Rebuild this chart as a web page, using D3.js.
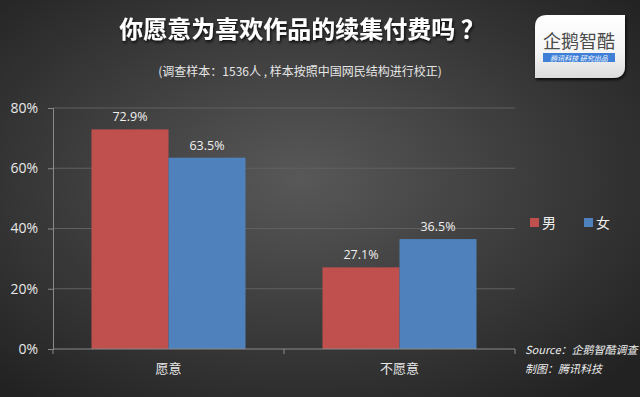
<!DOCTYPE html>
<html>
<head>
<meta charset="utf-8">
<script src="https://cdn.jsdelivr.net/npm/d3@7"></script>
<style>
  html, body { margin: 0; padding: 0; background: #2a2a2a; }
  svg { display: block; font-family: "Noto Sans CJK SC", "Noto Sans", sans-serif; }
</style>
</head>
<body>
<svg id="chart"></svg>
<script>
// chart data
const categories = ['愿意', '不愿意'];
const seriesNames = ['男', '女'];
const maleValues = [72.9, 27.1];
const femaleValues = [63.5, 36.5];
const yTicks = [0, 20, 40, 60, 80];

const seriesColors = ['#C0504D', '#4F81BD'];

const width = 640;
const height = 397;

const svg = d3.select('#chart')
    .attr('width', width)
    .attr('height', height);

// background gradient
const defs = svg.append('defs');
const bg = defs.append('radialGradient')
    .attr('id', 'bg')
    .attr('cx', '47%').attr('cy', '45%').attr('r', '70%');
bg.append('stop').attr('offset', '0%').attr('stop-color', '#585858');
bg.append('stop').attr('offset', '100%').attr('stop-color', '#222222');

const logoGrad = defs.append('linearGradient')
    .attr('id', 'logoGrad')
    .attr('x1', 0).attr('y1', 0).attr('x2', 0).attr('y2', 1);
logoGrad.append('stop').attr('offset', '0%').attr('stop-color', '#ffffff');
logoGrad.append('stop').attr('offset', '60%').attr('stop-color', '#f4f4f4');
logoGrad.append('stop').attr('offset', '100%').attr('stop-color', '#dcdcdc');

const shadow = defs.append('filter').attr('id', 'shadow')
    .attr('x', '-10%').attr('y', '-30%').attr('width', '120%').attr('height', '160%');
shadow.append('feDropShadow')
    .attr('dx', 1).attr('dy', 2).attr('stdDeviation', 1.5)
    .attr('flood-color', '#000').attr('flood-opacity', 0.8);

svg.append('rect')
    .attr('width', width).attr('height', height)
    .attr('fill', 'url(#bg)');

// title
svg.append('text')
    .attr('x', 302).attr('y', 38)
    .attr('text-anchor', 'middle')
    .attr('fill', '#ffffff')
    .attr('font-size', 24)
    .attr('font-weight', 'bold')
    .attr('filter', 'url(#shadow)')
    .text('你愿意为喜欢作品的续集付费吗 ？');

svg.append('text')
    .attr('x', 300).attr('y', 76)
    .attr('text-anchor', 'middle')
    .attr('fill', '#e6e6e6')
    .attr('font-size', 12)
    .text('(调查样本：1536人 , 样本按照中国网民结构进行校正)');

// logo box
const logo = svg.append('g');
logo.append('path')
    .attr('d', 'M547,15 H625 V66 Q625,78 613,78 H535 V27 Q535,15 547,15 Z')
    .attr('fill', 'url(#logoGrad)')
    .attr('filter', 'url(#shadow)');
logo.append('text')
    .attr('x', 579).attr('y', 48)
    .attr('text-anchor', 'middle')
    .attr('fill', '#4a4a4a')
    .attr('font-size', 18)
    .text('企鹅智酷');
logo.append('rect')
    .attr('x', 543).attr('y', 53).attr('width', 72).attr('height', 9)
    .attr('fill', '#3f7fd8');
logo.append('text')
    .attr('x', 579).attr('y', 60.5)
    .attr('text-anchor', 'middle')
    .attr('fill', '#ffffff')
    .attr('font-size', 7)
    .attr('font-style', 'italic')
    .text('腾讯科技  研究出品');

// scales
const x0 = d3.scaleBand()
    .domain(categories)
    .range([53, 515])
    .padding(0);

const x1 = d3.scaleBand()
    .domain(seriesNames)
    .range([0, x0.bandwidth()])
    .paddingInner(0)
    .paddingOuter(0.5);

const y = d3.scaleLinear()
    .domain([0, 80])
    .range([349, 108]);

const color = d3.scaleOrdinal()
    .domain(seriesNames)
    .range(seriesColors);

// gridlines
svg.append('g')
    .selectAll('line')
    .data(yTicks.filter(d => d > 0))
    .enter()
    .append('line')
    .attr('x1', 53).attr('x2', 515)
    .attr('y1', d => y(d)).attr('y2', d => y(d))
    .attr('stroke', '#606060')
    .attr('stroke-width', 1);

// y axis
const yAxis = svg.append('g')
    .attr('transform', 'translate(53,0)')
    .call(d3.axisLeft(y).tickValues(yTicks).tickSize(5).tickPadding(10).tickFormat(d => d + '%'));
yAxis.select('.domain').attr('stroke', '#8a8a8a');
yAxis.selectAll('.tick line').attr('stroke', '#8a8a8a');
yAxis.selectAll('.tick text')
    .attr('fill', '#e8e8e8')
    .attr('font-size', 14)
    .attr('font-family', '"Open Sans", "Noto Sans", sans-serif');

// bars
const rows = categories.map((c, i) => ({
    category: c,
    values: [
        { name: seriesNames[0], value: maleValues[i] },
        { name: seriesNames[1], value: femaleValues[i] }
    ]
}));

const groups = svg.append('g')
    .selectAll('g')
    .data(rows)
    .enter()
    .append('g')
    .attr('transform', d => `translate(${x0(d.category)},0)`);

groups.selectAll('rect')
    .data(d => d.values)
    .enter()
    .append('rect')
    .attr('x', d => x1(d.name))
    .attr('width', x1.bandwidth())
    .attr('y', d => y(d.value))
    .attr('height', d => y(0) - y(d.value))
    .attr('fill', d => color(d.name));

groups.selectAll('text')
    .data(d => d.values)
    .enter()
    .append('text')
    .attr('x', d => x1(d.name) + x1.bandwidth() / 2)
    .attr('y', d => y(d.value) - 8)
    .attr('text-anchor', 'middle')
    .attr('fill', '#f0f0f0')
    .attr('font-size', 12.5)
    .attr('font-family', '"Open Sans", "Noto Sans", sans-serif')
    .text(d => d.value.toFixed(1) + '%');

// x axis
const xAxis = svg.append('g')
    .attr('transform', 'translate(0,349)');
xAxis.append('line')
    .attr('x1', 53).attr('x2', 515)
    .attr('stroke', '#8a8a8a');
xAxis.selectAll('.tk')
    .data([53, 284, 515])
    .enter()
    .append('line')
    .attr('x1', d => d).attr('x2', d => d)
    .attr('y1', 0).attr('y2', 5)
    .attr('stroke', '#8a8a8a');
xAxis.selectAll('text')
    .data(categories)
    .enter()
    .append('text')
    .attr('x', d => x0(d) + x0.bandwidth() / 2)
    .attr('y', 24)
    .attr('text-anchor', 'middle')
    .attr('fill', '#e8e8e8')
    .attr('font-size', 13)
    .text(d => d);

// legend
const legend = svg.append('g')
    .selectAll('g')
    .data(seriesNames)
    .enter()
    .append('g')
    .attr('transform', (d, i) => `translate(${530 + i * 54},218)`);
legend.append('rect')
    .attr('width', 9).attr('height', 9)
    .attr('fill', d => color(d));
legend.append('text')
    .attr('x', 12).attr('y', 9.5)
    .attr('fill', '#f0f0f0')
    .attr('font-size', 14)
    .text(d => d);

// source notes
svg.append('text')
    .attr('x', 525).attr('y', 354)
    .attr('fill', '#eeeeee')
    .attr('font-size', 11)
    .attr('font-style', 'italic')
    .text('Source：企鹅智酷调查');
svg.append('text')
    .attr('x', 525).attr('y', 373)
    .attr('fill', '#eeeeee')
    .attr('font-size', 11)
    .attr('font-style', 'italic')
    .text('制图：腾讯科技');
</script>
</body>
</html>
